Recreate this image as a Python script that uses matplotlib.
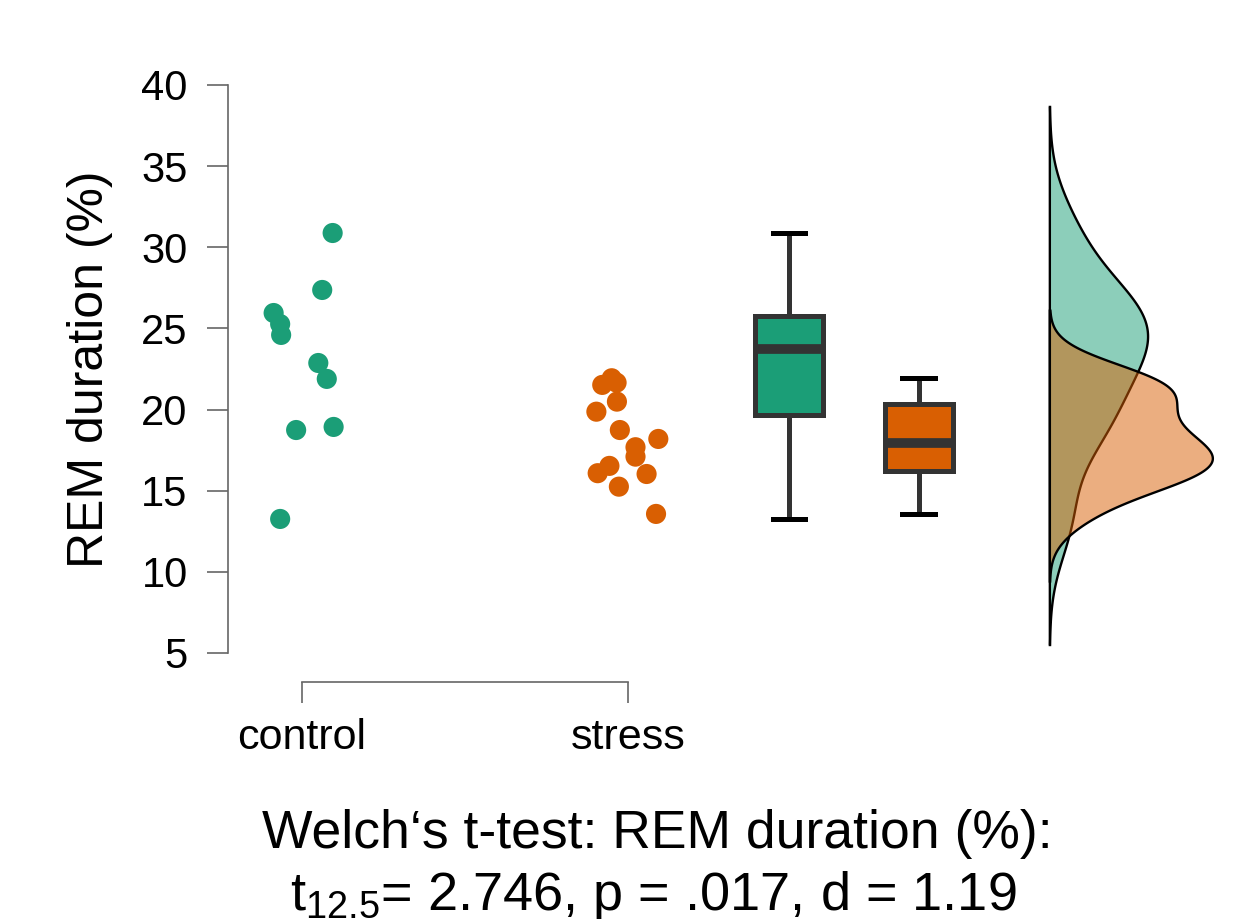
import numpy as np
import matplotlib.pyplot as plt
from matplotlib.colors import to_rgba

plt.rcParams['font.family'] = ['Liberation Sans', 'DejaVu Sans']
plt.rcParams['mathtext.default'] = 'regular'

# data
groups = ['control', 'stress']
colors = ['#1B9E77', '#D95F02']

control_y = [30.88, 27.37, 25.95, 25.27, 24.60, 22.87, 21.89, 18.74, 18.93, 13.26]
control_x = [1.094, 1.062, 0.913, 0.933, 0.936, 1.050, 1.076, 0.982, 1.097, 0.933]
stress_y = [21.52, 21.93, 21.66, 20.49, 19.87, 18.74, 18.19, 17.68, 17.10,
            16.53, 16.08, 16.03, 15.25, 13.57]
stress_x = [1.921, 1.950, 1.965, 1.966, 1.903, 1.975, 2.093, 2.023, 2.023,
            1.943, 1.907, 2.057, 1.972, 2.086]

box_pos = [2.494, 2.892]
dens_base = 3.294

title1 = "Welch\u2018s t-test: REM duration (%):"
title2 = "t$_{12.5}$= 2.746, p = .017, d = 1.19"


def kde(v):
    # gaussian kernel density, bw.nrd0 and cut = 3 like R's density()
    v = np.asarray(v)
    n = len(v)
    q75, q25 = np.percentile(v, [75, 25])
    bw = 0.9 * min(v.std(ddof=1), (q75 - q25) / 1.34) * n ** -0.2
    grid = np.linspace(v.min() - 3 * bw, v.max() + 3 * bw, 512)
    d = np.exp(-0.5 * ((grid[:, None] - v[None, :]) / bw) ** 2).sum(1)
    d = d / (n * bw * np.sqrt(2 * np.pi))
    return grid, d


W, H = 1242, 919
fig = plt.figure(figsize=(W / 100, H / 100), dpi=100)
ax = fig.add_axes([228 / W, (H - 653) / H, (1230 - 228) / W, (653 - 85) / H])

ys = [control_y, stress_y]
xs = [control_x, stress_x]

# jittered points
for x, y, c in zip(xs, ys, colors):
    ax.scatter(x, y, s=210, color=c, edgecolors='none', zorder=3)

# boxplots
bp = ax.boxplot(ys, positions=box_pos, widths=0.21, patch_artist=True,
                showfliers=False, capwidths=0.1,
                boxprops=dict(edgecolor='#333333', linewidth=3.6),
                medianprops=dict(color='#333333', linewidth=7),
                whiskerprops=dict(color='#333333', linewidth=3.6),
                capprops=dict(color='black', linewidth=3.6))
for patch, c in zip(bp['boxes'], colors):
    patch.set_facecolor(c)

# half densities
dens = [kde(y) for y in ys]
k = 0.5 / max(d.max() for _, d in dens)
for (grid, d), c in zip(dens, colors):
    px = np.r_[dens_base, dens_base + d * k, dens_base]
    py = np.r_[grid[0], grid, grid[-1]]
    ax.fill(px, py, facecolor=to_rgba(c, 0.5), edgecolor='black', linewidth=1.7, zorder=2)

ax.set_xlim(1 - 74 / 326, 1 + (1230 - 302) / 326)
ax.set_ylim(5, 40)
ax.set_yticks(np.arange(5, 41, 5))
ax.set_xticks([1, 2])
ax.set_xticklabels(groups)

for s in ['top', 'right']:
    ax.spines[s].set_visible(False)
ax.spines['left'].set_bounds(5, 40)
ax.spines['bottom'].set_bounds(1, 2)
ax.spines['bottom'].set_position(('outward', 21))
for s in ['left', 'bottom']:
    ax.spines[s].set_color('#666666')
    ax.spines[s].set_linewidth(1.2)

ax.tick_params(axis='y', length=15, width=1.2, color='#666666', pad=14, labelsize=30)
ax.tick_params(axis='x', length=15, width=1.2, color='#666666', pad=11, labelsize=31)

fig.text(90 / W, 1 - 369 / H, 'REM duration (%)', rotation=90, ha='center', va='center', fontsize=36)
fig.text(657 / W, 1 - 848 / H, title1, ha='center', va='baseline', fontsize=38.5)
fig.text(653 / W, 1 - 910 / H, title2, ha='center', va='baseline', fontsize=39)

fig.savefig('out.png', dpi=100)
